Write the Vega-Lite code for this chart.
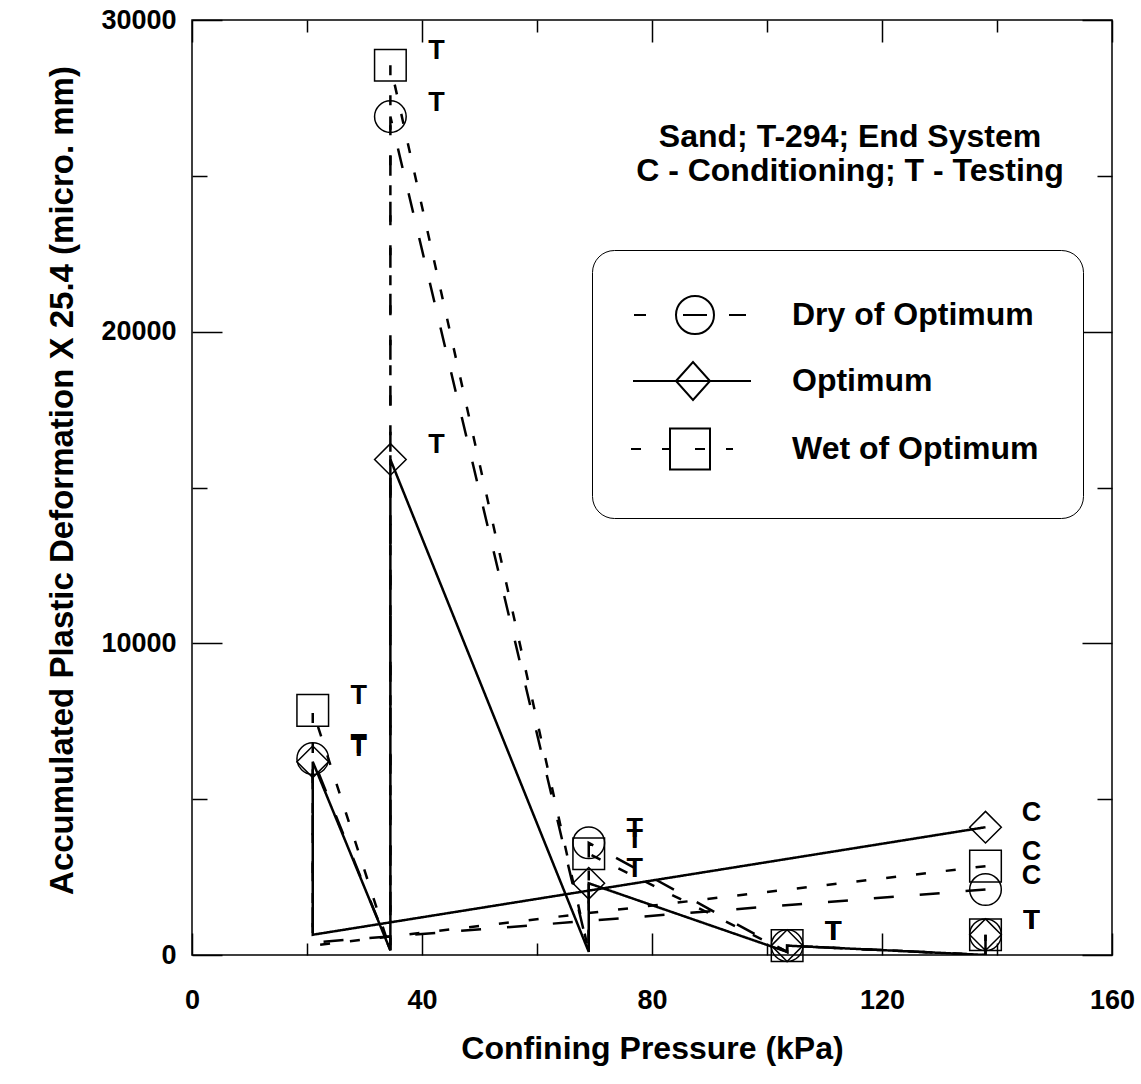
{
  "$schema": "https://vega.github.io/schema/vega-lite/v6.json",
  "width": 920,
  "height": 935,
  "autosize": "none",
  "padding": {"left": 192, "top": 20, "right": 29, "bottom": 129},
  "background": "white",
  "config": {
    "view": {"stroke": "black", "strokeWidth": 1.5},
    "font": "Liberation Sans"
  },
  "title": {
    "text": ["Sand; T-294; End System", "C - Conditioning; T - Testing"],
    "anchor": "middle",
    "frame": "group",
    "offset": 0,
    "dx": 198,
    "dy": 182,
    "baseline": "top",
    "align": "center",
    "font": "Liberation Sans",
    "fontSize": 32,
    "fontWeight": "bold",
    "lineHeight": 34,
    "color": "black"
  },
  "data": {
    "values": [
      {"series": "Optimum", "idx": 1, "p": 138, "v": 4100, "label": "C"},
      {"series": "Optimum", "idx": 2, "p": 21, "v": 650, "label": ""},
      {"series": "Optimum", "idx": 3, "p": 21, "v": 6200, "label": "T"},
      {"series": "Optimum", "idx": 4, "p": 34.5, "v": 150, "label": ""},
      {"series": "Optimum", "idx": 5, "p": 34.5, "v": 15900, "label": "T"},
      {"series": "Optimum", "idx": 6, "p": 69, "v": 100, "label": ""},
      {"series": "Optimum", "idx": 7, "p": 69, "v": 2300, "label": "T"},
      {"series": "Optimum", "idx": 8, "p": 103.5, "v": 100, "label": ""},
      {"series": "Optimum", "idx": 9, "p": 103.5, "v": 300, "label": "T"},
      {"series": "Optimum", "idx": 10, "p": 138, "v": 0, "label": ""},
      {"series": "Optimum", "idx": 11, "p": 138, "v": 650, "label": "T"},
      {"series": "Dry of Optimum", "idx": 1, "p": 138, "v": 2100, "label": "C"},
      {"series": "Dry of Optimum", "idx": 2, "p": 21, "v": 400, "label": ""},
      {"series": "Dry of Optimum", "idx": 3, "p": 21, "v": 6300, "label": "T"},
      {"series": "Dry of Optimum", "idx": 4, "p": 34.5, "v": 150, "label": ""},
      {"series": "Dry of Optimum", "idx": 5, "p": 34.5, "v": 26900, "label": "T"},
      {"series": "Dry of Optimum", "idx": 6, "p": 69, "v": 100, "label": ""},
      {"series": "Dry of Optimum", "idx": 7, "p": 69, "v": 3600, "label": "T"},
      {"series": "Dry of Optimum", "idx": 8, "p": 103.5, "v": 100, "label": ""},
      {"series": "Dry of Optimum", "idx": 9, "p": 103.5, "v": 300, "label": "T"},
      {"series": "Dry of Optimum", "idx": 10, "p": 138, "v": 0, "label": ""},
      {"series": "Dry of Optimum", "idx": 11, "p": 138, "v": 650, "label": "T"},
      {"series": "Wet of Optimum", "idx": 1, "p": 138, "v": 2850, "label": "C"},
      {"series": "Wet of Optimum", "idx": 2, "p": 21, "v": 300, "label": ""},
      {"series": "Wet of Optimum", "idx": 3, "p": 21, "v": 7850, "label": "T"},
      {"series": "Wet of Optimum", "idx": 4, "p": 34.5, "v": 150, "label": ""},
      {"series": "Wet of Optimum", "idx": 5, "p": 34.5, "v": 28550, "label": "T"},
      {"series": "Wet of Optimum", "idx": 6, "p": 69, "v": 100, "label": ""},
      {"series": "Wet of Optimum", "idx": 7, "p": 69, "v": 3250, "label": "T"},
      {"series": "Wet of Optimum", "idx": 8, "p": 103.5, "v": 100, "label": ""},
      {"series": "Wet of Optimum", "idx": 9, "p": 103.5, "v": 300, "label": "T"},
      {"series": "Wet of Optimum", "idx": 10, "p": 138, "v": 0, "label": ""},
      {"series": "Wet of Optimum", "idx": 11, "p": 138, "v": 650, "label": "T"}
    ]
  },
  "layer": [
    {
      "mark": {"type": "line", "strokeWidth": 2.5, "color": "black", "clip": true},
      "encoding": {
        "x": {
          "field": "p", "type": "quantitative",
          "scale": {"domain": [0, 160], "nice": false, "zero": false},
          "axis": {
            "orient": "bottom",
            "values": [0, 20, 40, 60, 80, 100, 120, 140, 160],
            "labelExpr": "datum.value % 40 === 0 ? datum.label : ''",
            "tickSize": {"condition": {"test": "datum.value % 40 === 0", "value": -22}, "value": -12},
            "tickColor": "black",
            "tickWidth": 1.5,
            "domain": false,
            "grid": false,
            "labelFont": "Liberation Sans",
            "labelFontSize": 27,
            "labelFontWeight": "bold",
            "labelColor": "black",
            "labelBaseline": "middle",
            "labelPadding": 67,
            "labelFlush": false,
            "labelOverlap": false,
            "title": "Confining Pressure (kPa)",
            "titleFont": "Liberation Sans",
            "titleFontSize": 32,
            "titleFontWeight": "bold",
            "titleColor": "black",
            "titleY": 93,
            "titleBaseline": "middle"
          }
        },
        "y": {
          "field": "v", "type": "quantitative",
          "scale": {"domain": [0, 30000], "nice": false, "zero": false},
          "axis": {
            "orient": "left",
            "values": [0, 5000, 10000, 15000, 20000, 25000, 30000],
            "format": "d",
            "labelExpr": "datum.value % 10000 === 0 ? datum.label : ''",
            "tickSize": {"condition": {"test": "datum.value % 10000 === 0", "value": -30}, "value": -15},
            "tickColor": "black",
            "tickWidth": 1.5,
            "domain": false,
            "grid": false,
            "labelFont": "Liberation Sans",
            "labelFontSize": 27,
            "labelFontWeight": "bold",
            "labelColor": "black",
            "labelPadding": 46,
            "labelFlush": false,
            "labelOverlap": false,
            "title": "Accumulated Plastic Deformation  X 25.4 (micro. mm)",
            "titleFont": "Liberation Sans",
            "titleFontSize": 33,
            "titleFontWeight": "bold",
            "titleColor": "black",
            "titleX": -130,
            "titleY": 460,
            "titleAngle": -90,
            "titleAlign": "center",
            "titleBaseline": "middle"
          }
        },
        "order": {"field": "idx", "type": "quantitative"},
        "strokeDash": {
          "field": "series", "type": "nominal",
          "scale": {"range": [[20, 26], [1, 0], [10, 20]]},
          "legend": null
        }
      }
    },
    {
      "transform": [{"filter": "datum.label !== ''"}],
      "mark": {"type": "point", "filled": false, "strokeWidth": 1.5, "size": 1000, "opacity": 1},
      "encoding": {
        "x": {
          "field": "p", "type": "quantitative",
          "axis": {
            "orient": "top",
            "values": [0, 20, 40, 60, 80, 100, 120, 140, 160],
            "labels": false,
            "title": null,
            "domain": false,
            "grid": false,
            "tickSize": {"condition": {"test": "datum.value % 40 === 0", "value": -22}, "value": -12},
            "tickColor": "black",
            "tickWidth": 1.5
          }
        },
        "y": {
          "field": "v", "type": "quantitative",
          "axis": {
            "orient": "right",
            "values": [0, 5000, 10000, 15000, 20000, 25000, 30000],
            "labels": false,
            "title": null,
            "domain": false,
            "grid": false,
            "tickSize": {"condition": {"test": "datum.value % 10000 === 0", "value": -30}, "value": -15},
            "tickColor": "black",
            "tickWidth": 1.5
          }
        },
        "shape": {
          "field": "series", "type": "nominal",
          "scale": {"range": ["circle", "diamond", "square"]},
          "legend": null
        },
        "color": {
          "field": "series", "type": "nominal",
          "scale": {"domain": ["Dry of Optimum", "Optimum", "Wet of Optimum"], "range": ["black", "black", "black"]},
          "legend": {
            "orient": "none",
            "legendX": 400,
            "legendY": 230,
            "title": null,
            "fillColor": "white",
            "strokeColor": "black",
            "cornerRadius": 22,
            "padding": 44,
            "rowPadding": 20,
            "symbolSize": 1600,
            "symbolOffset": 34,
            "labelOffset": 80,
            "symbolStrokeWidth": 2,
            "symbolFillColor": "transparent",
            "symbolType": {"expr": "datum.value === 'Dry of Optimum' ? 'M -2.85 0 L -2.25 0 M 1.15 0 C 1.15 0.5247 0.7247 0.95 0.2 0.95 C -0.3247 0.95 -0.75 0.5247 -0.75 0 C -0.75 -0.5247 -0.3247 -0.95 0.2 -0.95 C 0.7247 -0.95 1.15 -0.5247 1.15 0 Z M -0.4 0 L 0.8 0 M 1.9 0 L 2.75 0' : (datum.value === 'Optimum' ? 'M -2.9 0 L 3 0 M -0.75 0 L 0.1 -0.95 L 0.95 0 L 0.1 0.95 Z' : 'M -3 0 L -2.5 0 M -1.45 0 L -1.05 0 M -1.05 -1.03 L 0.95 -1.03 L 0.95 1.03 L -1.05 1.03 Z M 0.2 0 L 0.7 0 M 1.75 0 L 2.1 0')"},
            "labelFont": "Liberation Sans",
            "labelFontSize": 32,
            "labelFontWeight": "bold",
            "labelColor": "black",
            "labelLimit": 500,
            "encode": {
              "legend": {
                "strokeWidth": {"value": 1.5}
              }
            }
          }
        }
      }
    },
    {
      "transform": [{"filter": "datum.label !== ''"}],
      "mark": {"type": "text", "dx": 46, "dy": -14, "fontSize": 27, "fontWeight": "bold", "font": "Liberation Sans", "color": "black", "align": "center", "baseline": "middle"},
      "encoding": {
        "x": {"field": "p", "type": "quantitative", "axis": null},
        "y": {"field": "v", "type": "quantitative", "axis": null},
        "text": {"field": "label", "type": "nominal"}
      }
    }
  ],
  "resolve": {"axis": {"x": "independent", "y": "independent"}}
}
